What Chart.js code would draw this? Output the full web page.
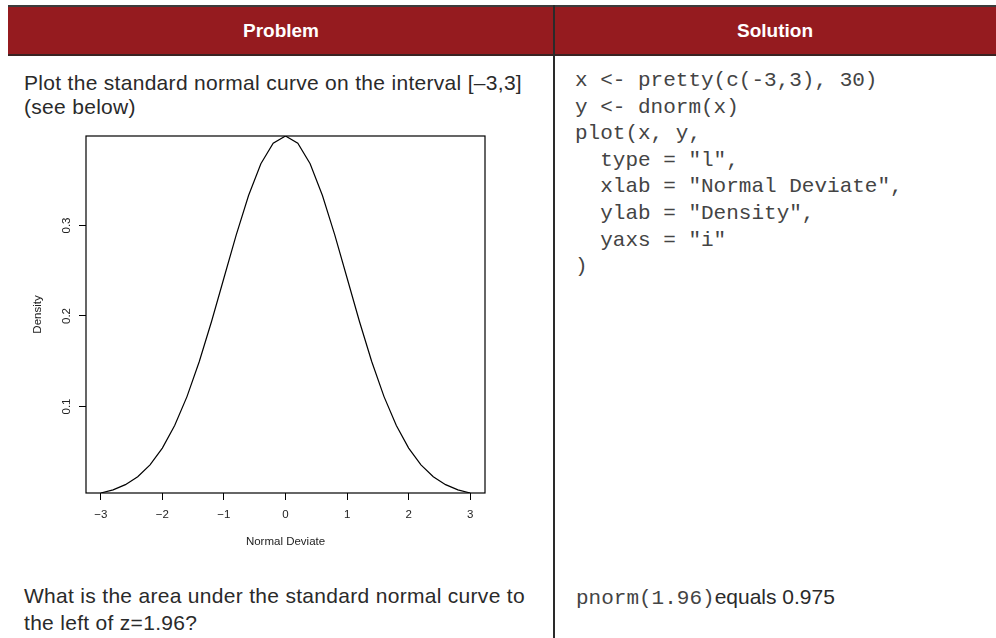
<!DOCTYPE html>
<html>
<head>
<meta charset="utf-8">
<script src="https://cdn.jsdelivr.net/npm/chart.js@4/dist/chart.umd.min.js"></script>
<style>
  html, body { margin: 0; padding: 0; background: #fff; }
  body { width: 996px; height: 638px; position: relative; overflow: hidden; font-family: "Liberation Sans", Arial, sans-serif; color: #222; }
  .topline { position: absolute; left: 8px; top: 5px; width: 988px; height: 2px; background: #3c3c3c; }
  .head { position: absolute; left: 8px; top: 7px; width: 988px; height: 47px; background: #951b1f; border-bottom: 2px solid #3a2222; }
  .head div { position: absolute; top: 0; height: 47px; line-height: 47px; text-align: center; color: #fff; font-weight: bold; font-size: 19px; }
  .divider { position: absolute; left: 553px; top: 5px; width: 1.5px; height: 640px; background: #2a2a2a; }
  .txt { position: absolute; font-size: 21px; letter-spacing: 0.3px; line-height: 24px; color: #2a2a2a; }
  .code { position: absolute; font-family: "Liberation Mono", "Courier New", monospace; font-size: 21px; line-height: 26.6px; color: #444; white-space: pre; }
  .mono { font-family: "Liberation Mono", "Courier New", monospace; font-size: 21px; letter-spacing: 0; color: #444; }
  #box { position: absolute; left: 20px; top: 125px; width: 480px; height: 440px; }
</style>
</head>
<body>
<div class="topline"></div>
<div class="head">
  <div style="left:0;width:546px;">Problem</div>
  <div style="left:546px;width:442px;">Solution</div>
</div>
<div class="divider"></div>

<div class="txt" style="left:24px;top:71px;">Plot the standard normal curve on the interval [–3,3]<br>(see below)</div>
<div class="code" style="left:575px;top:68px;">x &lt;- pretty(c(-3,3), 30)
y &lt;- dnorm(x)
plot(x, y,
  type = "l",
  xlab = "Normal Deviate",
  ylab = "Density",
  yaxs = "i"
)</div>

<div id="box"><canvas id="normal"></canvas></div>

<div class="txt" style="left:24px;top:582px;line-height:27px;">What is the area under the standard normal curve to<br>the left of z=1.96?</div>
<div class="txt" style="left:576px;top:585px;letter-spacing:0;"><span class="mono">pnorm(1.96)</span>equals 0.975</div>

<script>
// x <- pretty(c(-3,3), 30)
var xValues = [-3, -2.8, -2.6, -2.4, -2.2, -2, -1.8, -1.6, -1.4, -1.2, -1, -0.8, -0.6, -0.4, -0.2, 0,
               0.2, 0.4, 0.6, 0.8, 1, 1.2, 1.4, 1.6, 1.8, 2, 2.2, 2.4, 2.6, 2.8, 3];
// density
var densityValues = [0.0044, 0.0079, 0.0136, 0.0224, 0.0355, 0.0540, 0.0790, 0.1109, 0.1497, 0.1942, 0.2420,
                     0.2897, 0.3332, 0.3683, 0.3910, 0.3989, 0.3910, 0.3683, 0.3332, 0.2897, 0.2420, 0.1942,
                     0.1497, 0.1109, 0.0790, 0.0540, 0.0355, 0.0224, 0.0136, 0.0079, 0.0044];
var xTicks = [-3, -2, -1, 0, 1, 2, 3];
var yTicks = [0.1, 0.2, 0.3];

var points = xValues.map(function (x, i) { return { x: x, y: densityValues[i] }; });

// box round the plot region, like R's frame
var frame = {
    id: 'frame',
    afterDatasetsDraw: function (chart) {
        var a = chart.chartArea, c = chart.ctx;
        c.save();
        c.strokeStyle = '#000';
        c.lineWidth = 1.2;
        c.strokeRect(a.left, a.top, a.right - a.left, a.bottom - a.top);
        c.restore();
    }
};

var axisFont = { family: '"Liberation Sans", Arial, sans-serif', size: 11.5 };

var ctx = document.getElementById('normal').getContext('2d');
var chart = new Chart(ctx, {
    type: 'scatter',
    data: {
        datasets: [{
            data: points,
            showLine: true,
            borderColor: '#000',
            borderWidth: 1.2,
            pointRadius: 0,
            tension: 0,
            fill: false
        }]
    },
    options: {
        responsive: true,
        maintainAspectRatio: false,
        animation: false,
        layout: { padding: { top: 11, right: 15, left: 0, bottom: 0 } },
        plugins: { legend: { display: false }, tooltip: { enabled: false } },
        scales: {
            x: {
                type: 'linear',
                min: -3.24,
                max: 3.24,
                afterBuildTicks: function (s) { s.ticks = xTicks.map(function (v) { return { value: v }; }); },
                afterFit: function (s) { s.height = 72; },
                grid: { drawOnChartArea: false, drawTicks: true, tickLength: 7, color: '#000', lineWidth: 1 },
                border: { display: false },
                ticks: {
                    color: '#222', font: axisFont, padding: 8, maxRotation: 0,
                    callback: function (v) { return String(v).replace('-', '\u2212'); }
                },
                title: { display: true, text: 'Normal Deviate', color: '#222', font: axisFont, padding: { top: 0, bottom: 16 } }
            },
            y: {
                type: 'linear',
                min: Math.min.apply(null, densityValues),
                max: Math.max.apply(null, densityValues),
                afterBuildTicks: function (s) { s.ticks = yTicks.map(function (v) { return { value: v }; }); },
                afterFit: function (s) { s.width = 66; },
                grid: { drawOnChartArea: false, drawTicks: true, tickLength: 7, color: '#000', lineWidth: 1 },
                border: { display: false },
                ticks: {
                    color: '#222', font: axisFont, padding: 4, minRotation: 90, maxRotation: 90, crossAlign: 'center',
                    callback: function (v) { return v.toFixed(1); }
                },
                title: { display: true, text: 'Density', color: '#222', font: axisFont, padding: { top: 11, bottom: 0 } }
            }
        }
    },
    plugins: [frame]
});
</script>
</body>
</html>
